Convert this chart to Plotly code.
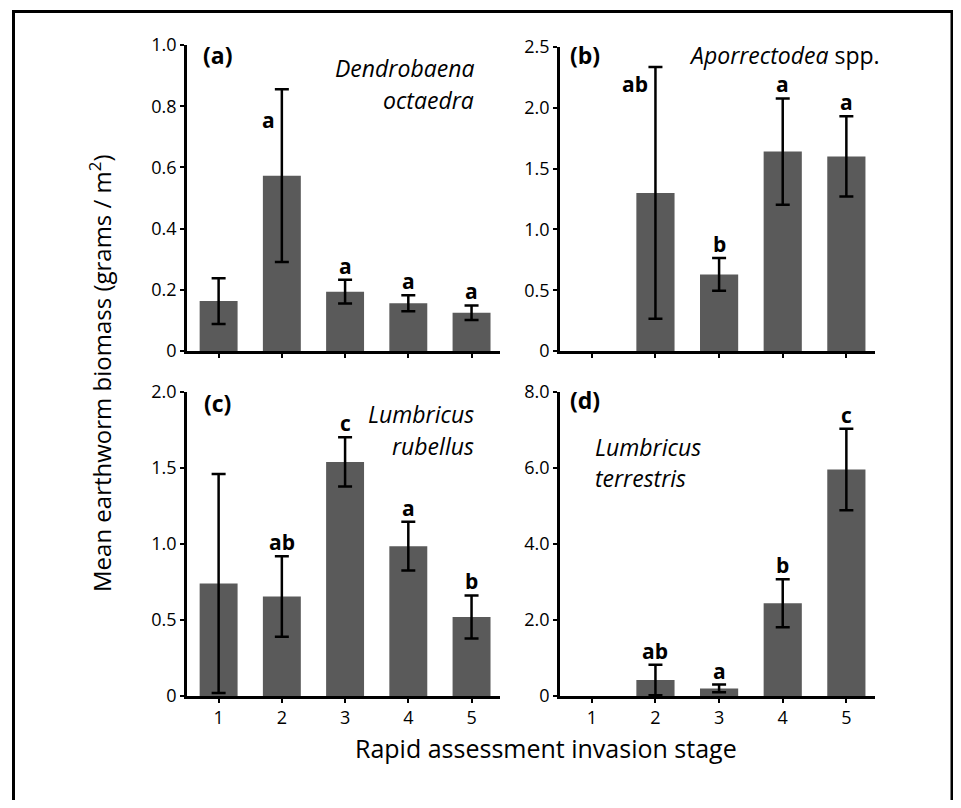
import plotly.graph_objects as go

stages = [1, 2, 3, 4, 5]
stage_labels = ["1", "2", "3", "4", "5"]

# (a) Dendrobaena octaedra
a_mean = [0.163, 0.573, 0.194, 0.156, 0.125]
a_err = [0.075, 0.282, 0.039, 0.026, 0.024]
a_letters = ["", "a", "a", "a", "a"]
# (b) Aporrectodea spp.
b_mean = [0.0, 1.30, 0.63, 1.64, 1.60]
b_err = [None, 1.035, 0.135, 0.437, 0.33]
b_letters = ["", "ab", "b", "a", "a"]
# (c) Lumbricus rubellus
c_mean = [0.74, 0.654, 1.54, 0.986, 0.52]
c_err = [0.72, 0.265, 0.162, 0.16, 0.142]
c_letters = ["", "ab", "c", "a", "b"]
# (d) Lumbricus terrestris
d_mean = [0.0, 0.42, 0.2, 2.44, 5.96]
d_err = [None, 0.4, 0.1, 0.63, 1.07]
d_letters = ["", "ab", "a", "b", "c"]

a_ticks = [0, 0.2, 0.4, 0.6, 0.8, 1.0]
a_ticktext = ["0", "0.2", "0.4", "0.6", "0.8", "1.0"]
b_ticks = [0, 0.5, 1.0, 1.5, 2.0, 2.5]
b_ticktext = ["0", "0.5", "1.0", "1.5", "2.0", "2.5"]
c_ticks = [0, 0.5, 1.0, 1.5, 2.0]
c_ticktext = ["0", "0.5", "1.0", "1.5", "2.0"]
d_ticks = [0, 2, 4, 6, 8]
d_ticktext = ["0", "2.0", "4.0", "6.0", "8.0"]

# page offset (body margin) compensation
OFF = 8
W, H = 961 - 2 * OFF, 808 - 2 * OFF
FONT = "Open Sans"
BAR = "#5a5a5a"


def px(x):
    return (x - OFF) / W


def py(y):
    return 1 - (y - OFF) / H


fig = go.Figure()

panels = [
    dict(mean=a_mean, err=a_err, letters=a_letters, ticks=a_ticks, tt=a_ticktext,
         ymax=1.0, xd=[187, 500], yd=[351, 45], showx=False),
    dict(mean=b_mean, err=b_err, letters=b_letters, ticks=b_ticks, tt=b_ticktext,
         ymax=2.5, xd=[560, 875], yd=[351, 47], showx=False),
    dict(mean=c_mean, err=c_err, letters=c_letters, ticks=c_ticks, tt=c_ticktext,
         ymax=2.0, xd=[187, 500], yd=[696, 392], showx=True),
    dict(mean=d_mean, err=d_err, letters=d_letters, ticks=d_ticks, tt=d_ticktext,
         ymax=8.0, xd=[560, 875], yd=[696, 392], showx=True),
]

annotations = []
for i, p in enumerate(panels):
    n = "" if i == 0 else str(i + 1)
    xa, ya = "x" + n, "y" + n
    fig.add_trace(go.Bar(
        x=stages, y=p["mean"], xaxis=xa, yaxis=ya, width=0.6,
        marker=dict(color=BAR, line=dict(width=0)),
        showlegend=False, hoverinfo="skip",
    ))
    ex = [s for s, e in zip(stages, p["err"]) if e is not None]
    ey = [m for m, e in zip(p["mean"], p["err"]) if e is not None]
    ee = [e for e in p["err"] if e is not None]
    fig.add_trace(go.Scatter(
        x=ex, y=ey, xaxis=xa, yaxis=ya, mode="markers",
        marker=dict(size=0.1, color="rgba(0,0,0,0)"),
        error_y=dict(type="data", array=ee, visible=True, color="black",
                     thickness=2.5, width=7),
        showlegend=False, hoverinfo="skip",
    ))
    common = dict(showgrid=False, zeroline=False, showline=True, linecolor="black",
                  linewidth=2.5, ticks="outside", ticklen=4, tickwidth=1.5,
                  tickcolor="black", automargin=False,
                  tickfont=dict(family=FONT, size=18, color="black"))
    fig.layout["xaxis" + n] = dict(
        domain=[px(p["xd"][0]), px(p["xd"][1])], anchor=ya, range=[0.5, 5.45],
        tickvals=stages, ticktext=stage_labels, showticklabels=p["showx"], **common)
    fig.layout["yaxis" + n] = dict(
        domain=[py(p["yd"][0]), py(p["yd"][1])], anchor=xa, range=[0, p["ymax"]],
        tickvals=p["ticks"], ticktext=p["tt"], **common)
    for s, m, e, L in zip(stages, p["mean"], p["err"], p["letters"]):
        if not L:
            continue
        top = m + (e or 0)
        ann = dict(x=s, y=top, xref=xa, yref=ya, text="<b>%s</b>" % L, showarrow=False,
                   font=dict(family=FONT, size=21, color="black"), yanchor="bottom", yshift=-2)
        if i in (0, 1) and s == 2:
            ann.update(xanchor="right", xshift=-5, yanchor="middle",
                       yshift=-31 if i == 0 else -17)
        annotations.append(ann)

labels = [
    dict(x=217, y=55, text="<b>(a)</b>", xanchor="center"),
    dict(x=585, y=55, text="<b>(b)</b>", xanchor="center"),
    dict(x=217, y=403, text="<b>(c)</b>", xanchor="center"),
    dict(x=585, y=400, text="<b>(d)</b>", xanchor="center"),
    dict(x=476, y=68, text="<i>Dendrobaena</i>", xanchor="right"),
    dict(x=476, y=100, text="<i>octaedra</i>", xanchor="right"),
    dict(x=687, y=55, text="<i>Aporrectodea</i> spp.", xanchor="left"),
    dict(x=476, y=414, text="<i>Lumbricus</i>", xanchor="right"),
    dict(x=476, y=446, text="<i>rubellus</i>", xanchor="right"),
    dict(x=593, y=447, text="<i>Lumbricus</i>", xanchor="left"),
    dict(x=593, y=478, text="<i>terrestris</i>", xanchor="left"),
]
for L in labels:
    annotations.append(dict(x=px(L["x"]), y=py(L["y"]), xref="paper", yref="paper",
                            text=L["text"], xanchor=L["xanchor"], yanchor="middle",
                            showarrow=False, font=dict(family=FONT, size=23, color="black")))

annotations.append(dict(x=px(546), y=py(748), xref="paper", yref="paper",
                        text="Rapid assessment invasion stage", showarrow=False,
                        xanchor="center", yanchor="middle",
                        font=dict(family=FONT, size=25, color="black")))
annotations.append(dict(x=px(100), y=py(374), xref="paper", yref="paper",
                        text="Mean earthworm biomass (grams / m<sup>2</sup>)", showarrow=False,
                        textangle=-90, xanchor="center", yanchor="middle",
                        font=dict(family=FONT, size=24, color="black")))

fig.update_layout(
    width=W, height=H, margin=dict(l=0, r=0, t=0, b=0, autoexpand=False),
    paper_bgcolor="white", plot_bgcolor="rgba(0,0,0,0)",
    annotations=annotations,
    shapes=[dict(type="rect", xref="paper", yref="paper", x0=px(13.5), x1=px(952),
                 y0=py(840), y1=py(11.5), line=dict(color="black", width=3))],
)

fig.write_html("out.html")
